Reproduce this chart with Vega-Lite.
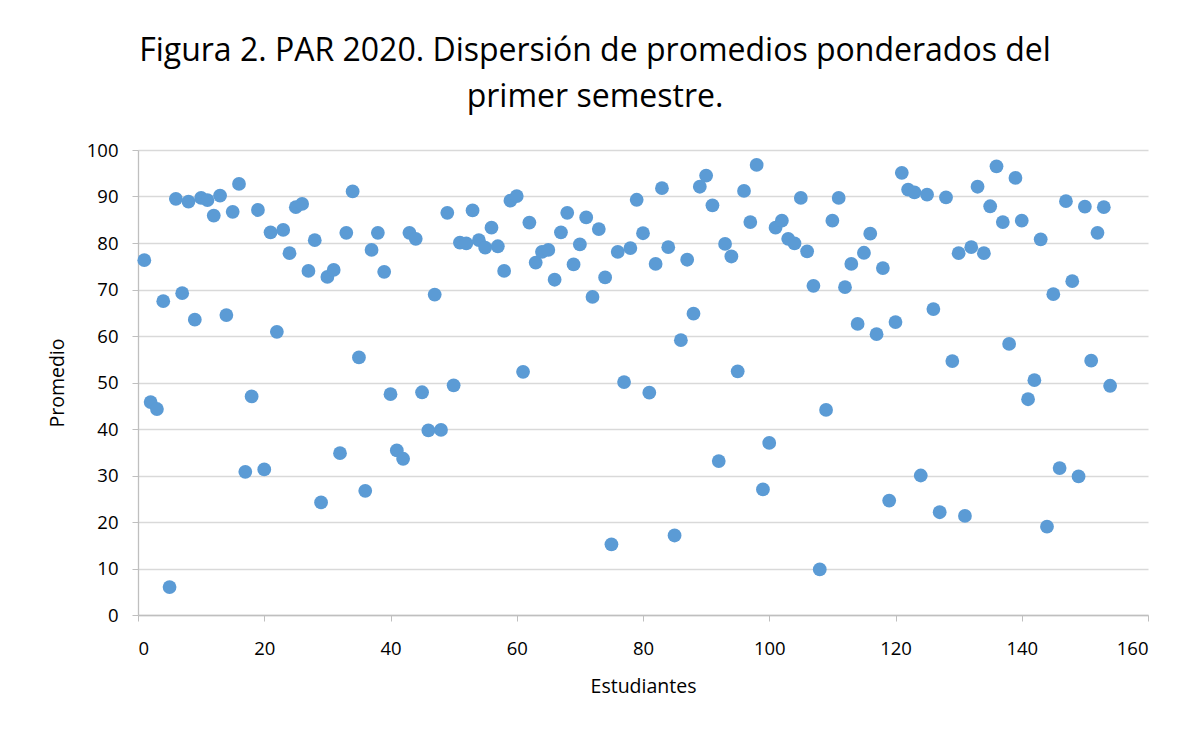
{
  "$schema": "https://vega.github.io/schema/vega-lite/v6.json",
  "width": 1010,
  "height": 465,
  "autosize": {"type": "none"},
  "padding": {"left": 138, "top": 150, "right": 32, "bottom": 115},
  "background": "white",
  "title": {
    "text": ["Figura 2. PAR 2020. Dispersión de promedios ponderados del", "primer semestre."],
    "font": "Open Sans",
    "fontSize": 32,
    "fontWeight": "normal",
    "color": "#000000",
    "anchor": "middle",
    "dx": -48,
    "lineHeight": 46,
    "offset": 27
  },
  "config": {
    "view": {"stroke": null},
    "axis": {
      "labelFont": "Open Sans",
      "titleFont": "Open Sans",
      "labelFontSize": 18.5,
      "titleFontSize": 19.5,
      "labelColor": "#000000",
      "titleColor": "#000000",
      "titleFontWeight": "normal",
      "gridColor": "#D9D9D9",
      "gridWidth": 1.3,
      "domainColor": "#BFBFBF",
      "tickColor": "#BFBFBF",
      "domainWidth": 1.3
    }
  },
  "data": {
    "values": [
      {"estudiante": 1, "promedio": 76.3}, {"estudiante": 2, "promedio": 45.8}, {"estudiante": 3, "promedio": 44.3}, {"estudiante": 4, "promedio": 67.5}, {"estudiante": 5, "promedio": 6},
      {"estudiante": 6, "promedio": 89.5}, {"estudiante": 7, "promedio": 69.2}, {"estudiante": 8, "promedio": 88.9}, {"estudiante": 9, "promedio": 63.5}, {"estudiante": 10, "promedio": 89.7},
      {"estudiante": 11, "promedio": 89.2}, {"estudiante": 12, "promedio": 85.9}, {"estudiante": 13, "promedio": 90.2}, {"estudiante": 14, "promedio": 64.5}, {"estudiante": 15, "promedio": 86.7},
      {"estudiante": 16, "promedio": 92.7}, {"estudiante": 17, "promedio": 30.8}, {"estudiante": 18, "promedio": 47}, {"estudiante": 19, "promedio": 87.1}, {"estudiante": 20, "promedio": 31.3},
      {"estudiante": 21, "promedio": 82.3}, {"estudiante": 22, "promedio": 60.9}, {"estudiante": 23, "promedio": 82.8}, {"estudiante": 24, "promedio": 77.8}, {"estudiante": 25, "promedio": 87.7},
      {"estudiante": 26, "promedio": 88.4}, {"estudiante": 27, "promedio": 74}, {"estudiante": 28, "promedio": 80.6}, {"estudiante": 29, "promedio": 24.2}, {"estudiante": 30, "promedio": 72.7},
      {"estudiante": 31, "promedio": 74.2}, {"estudiante": 32, "promedio": 34.8}, {"estudiante": 33, "promedio": 82.2}, {"estudiante": 34, "promedio": 91.1}, {"estudiante": 35, "promedio": 55.4},
      {"estudiante": 36, "promedio": 26.7}, {"estudiante": 37, "promedio": 78.5}, {"estudiante": 38, "promedio": 82.2}, {"estudiante": 39, "promedio": 73.8}, {"estudiante": 40, "promedio": 47.5},
      {"estudiante": 41, "promedio": 35.4}, {"estudiante": 42, "promedio": 33.6}, {"estudiante": 43, "promedio": 82.2}, {"estudiante": 44, "promedio": 80.9}, {"estudiante": 45, "promedio": 47.9},
      {"estudiante": 46, "promedio": 39.7}, {"estudiante": 47, "promedio": 68.9}, {"estudiante": 48, "promedio": 39.8}, {"estudiante": 49, "promedio": 86.5}, {"estudiante": 50, "promedio": 49.4},
      {"estudiante": 51, "promedio": 80.1}, {"estudiante": 52, "promedio": 79.9}, {"estudiante": 53, "promedio": 87}, {"estudiante": 54, "promedio": 80.6}, {"estudiante": 55, "promedio": 79},
      {"estudiante": 56, "promedio": 83.3}, {"estudiante": 57, "promedio": 79.3}, {"estudiante": 58, "promedio": 74}, {"estudiante": 59, "promedio": 89.1}, {"estudiante": 60, "promedio": 90.1},
      {"estudiante": 61, "promedio": 52.3}, {"estudiante": 62, "promedio": 84.4}, {"estudiante": 63, "promedio": 75.8}, {"estudiante": 64, "promedio": 78.1}, {"estudiante": 65, "promedio": 78.5},
      {"estudiante": 66, "promedio": 72.1}, {"estudiante": 67, "promedio": 82.3}, {"estudiante": 68, "promedio": 86.5}, {"estudiante": 69, "promedio": 75.4}, {"estudiante": 70, "promedio": 79.7},
      {"estudiante": 71, "promedio": 85.5}, {"estudiante": 72, "promedio": 68.4}, {"estudiante": 73, "promedio": 83}, {"estudiante": 74, "promedio": 72.6}, {"estudiante": 75, "promedio": 15.2},
      {"estudiante": 76, "promedio": 78.1}, {"estudiante": 77, "promedio": 50.1}, {"estudiante": 78, "promedio": 78.9}, {"estudiante": 79, "promedio": 89.3}, {"estudiante": 80, "promedio": 82.1},
      {"estudiante": 81, "promedio": 47.8}, {"estudiante": 82, "promedio": 75.5}, {"estudiante": 83, "promedio": 91.8}, {"estudiante": 84, "promedio": 79.1}, {"estudiante": 85, "promedio": 17.1},
      {"estudiante": 86, "promedio": 59.1}, {"estudiante": 87, "promedio": 76.4}, {"estudiante": 88, "promedio": 64.8}, {"estudiante": 89, "promedio": 92.1}, {"estudiante": 90, "promedio": 94.5},
      {"estudiante": 91, "promedio": 88.1}, {"estudiante": 92, "promedio": 33.1}, {"estudiante": 93, "promedio": 79.8}, {"estudiante": 94, "promedio": 77.1}, {"estudiante": 95, "promedio": 52.4},
      {"estudiante": 96, "promedio": 91.2}, {"estudiante": 97, "promedio": 84.5}, {"estudiante": 98, "promedio": 96.8}, {"estudiante": 99, "promedio": 27}, {"estudiante": 100, "promedio": 37},
      {"estudiante": 101, "promedio": 83.3}, {"estudiante": 102, "promedio": 84.8}, {"estudiante": 103, "promedio": 80.9}, {"estudiante": 104, "promedio": 79.9}, {"estudiante": 105, "promedio": 89.7},
      {"estudiante": 106, "promedio": 78.2}, {"estudiante": 107, "promedio": 70.8}, {"estudiante": 108, "promedio": 9.8}, {"estudiante": 109, "promedio": 44.1}, {"estudiante": 110, "promedio": 84.8},
      {"estudiante": 111, "promedio": 89.7}, {"estudiante": 112, "promedio": 70.5}, {"estudiante": 113, "promedio": 75.5}, {"estudiante": 114, "promedio": 62.6}, {"estudiante": 115, "promedio": 77.9},
      {"estudiante": 116, "promedio": 82}, {"estudiante": 117, "promedio": 60.4}, {"estudiante": 118, "promedio": 74.6}, {"estudiante": 119, "promedio": 24.6}, {"estudiante": 120, "promedio": 63},
      {"estudiante": 121, "promedio": 95.1}, {"estudiante": 122, "promedio": 91.5}, {"estudiante": 123, "promedio": 90.9}, {"estudiante": 124, "promedio": 30}, {"estudiante": 125, "promedio": 90.4},
      {"estudiante": 126, "promedio": 65.8}, {"estudiante": 127, "promedio": 22.1}, {"estudiante": 128, "promedio": 89.8}, {"estudiante": 129, "promedio": 54.6}, {"estudiante": 130, "promedio": 77.8},
      {"estudiante": 131, "promedio": 21.3}, {"estudiante": 132, "promedio": 79.1}, {"estudiante": 133, "promedio": 92.1}, {"estudiante": 134, "promedio": 77.8}, {"estudiante": 135, "promedio": 87.9},
      {"estudiante": 136, "promedio": 96.5}, {"estudiante": 137, "promedio": 84.5}, {"estudiante": 138, "promedio": 58.3}, {"estudiante": 139, "promedio": 94}, {"estudiante": 140, "promedio": 84.8},
      {"estudiante": 141, "promedio": 46.4}, {"estudiante": 142, "promedio": 50.5}, {"estudiante": 143, "promedio": 80.8}, {"estudiante": 144, "promedio": 19}, {"estudiante": 145, "promedio": 69},
      {"estudiante": 146, "promedio": 31.6}, {"estudiante": 147, "promedio": 89}, {"estudiante": 148, "promedio": 71.8}, {"estudiante": 149, "promedio": 29.8}, {"estudiante": 150, "promedio": 87.8},
      {"estudiante": 151, "promedio": 54.7}, {"estudiante": 152, "promedio": 82.2}, {"estudiante": 153, "promedio": 87.7}, {"estudiante": 154, "promedio": 49.3}
    ]
  },
  "mark": {"type": "circle", "size": 190, "color": "#5B9BD5", "opacity": 1},
  "encoding": {
    "x": {
      "field": "estudiante",
      "type": "quantitative",
      "title": "Estudiantes",
      "scale": {"domain": [0, 160], "nice": false},
      "axis": {"values": [0, 20, 40, 60, 80, 100, 120, 140, 160], "grid": false, "tickSize": 6, "labelPadding": 18, "titlePadding": 20}
    },
    "y": {
      "field": "promedio",
      "type": "quantitative",
      "title": "Promedio",
      "scale": {"domain": [0, 100], "nice": false},
      "axis": {"values": [0, 10, 20, 30, 40, 50, 60, 70, 80, 90, 100], "grid": true, "tickSize": 6, "labelPadding": 14, "titlePadding": 19}
    }
  }
}
